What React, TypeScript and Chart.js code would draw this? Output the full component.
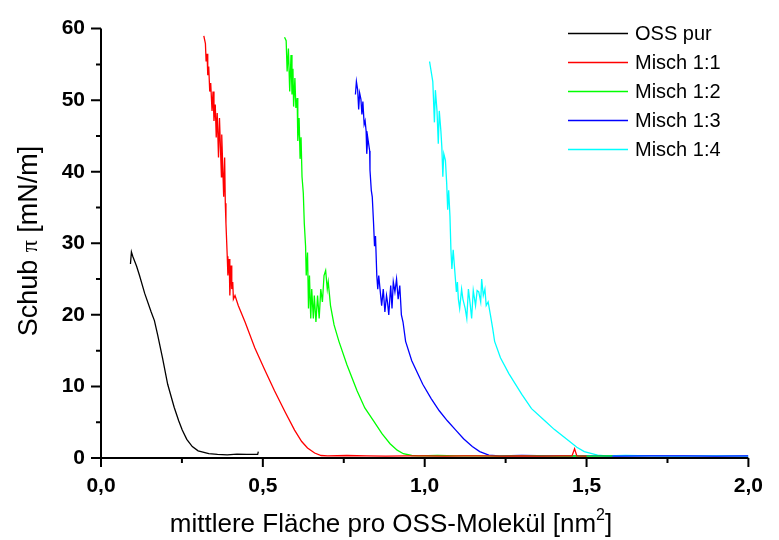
import React, { useEffect, useRef } from 'react';
import { Chart, registerables } from 'chart.js';

Chart.register(...registerables);

// ---- data ----
const seriesLabels = ['OSS pur', 'Misch 1:1', 'Misch 1:2', 'Misch 1:3', 'Misch 1:4'];
const seriesColors = ['#000000', '#ff0000', '#00ff00', '#0000ff', '#00ffff'];

const ossPurX = [0.091, 0.094, 0.098, 0.11, 0.119, 0.135, 0.155, 0.165, 0.175, 0.19, 0.206, 0.226, 0.24, 0.251, 0.265, 0.282, 0.3, 0.333, 0.36, 0.39, 0.42, 0.45, 0.484, 0.486];
const ossPurY = [27.1, 28.8, 28.2, 26.8, 25.5, 23.0, 20.4, 19.2, 17.2, 14.0, 10.3, 7.1, 5.2, 3.9, 2.6, 1.6, 1.0, 0.6, 0.5, 0.45, 0.55, 0.5, 0.5, 0.9];

const misch11X = [0.3176, 0.3226, 0.3247, 0.3277, 0.3298, 0.3328, 0.3359, 0.3389, 0.343, 0.346, 0.349, 0.353, 0.356, 0.359, 0.363, 0.366, 0.372, 0.373, 0.379, 0.382, 0.384, 0.386, 0.39, 0.392, 0.396, 0.398, 0.402, 0.404, 0.407, 0.409, 0.414, 0.424, 0.445, 0.475, 0.505, 0.536, 0.568, 0.598, 0.62, 0.638, 0.66, 0.68, 0.70, 0.76, 0.82, 0.88, 0.94, 1.0, 1.06, 1.12, 1.18, 1.24, 1.30, 1.36, 1.42, 1.455, 1.463, 1.47, 1.50];
const misch11Y = [59.0, 57.9, 55.4, 56.5, 53.5, 54.7, 51.2, 52.4, 48.5, 51.2, 47.1, 49.4, 44.8, 48.2, 42.0, 47.5, 39.3, 45.2, 36.5, 42.0, 35.6, 32.8, 28.2, 25.5, 27.8, 22.7, 26.9, 23.6, 24.6, 22.2, 22.7, 21.3, 19.0, 15.4, 12.4, 9.4, 6.5, 3.9, 2.3, 1.4, 0.7, 0.35, 0.3, 0.35, 0.3, 0.25, 0.3, 0.3, 0.25, 0.3, 0.3, 0.25, 0.3, 0.25, 0.3, 0.3, 1.3, 0.3, 0.25];

const misch12X = [0.567, 0.572, 0.575, 0.579, 0.583, 0.587, 0.59, 0.593, 0.595, 0.599, 0.602, 0.606, 0.608, 0.612, 0.615, 0.618, 0.621, 0.625, 0.628, 0.632, 0.634, 0.638, 0.641, 0.644, 0.648, 0.651, 0.656, 0.659, 0.664, 0.669, 0.674, 0.679, 0.684, 0.689, 0.694, 0.699, 0.702, 0.709, 0.72, 0.735, 0.76, 0.791, 0.815, 0.842, 0.868, 0.893, 0.915, 0.934, 0.96, 0.98, 1.04, 1.1, 1.16, 1.22, 1.28, 1.34, 1.40, 1.46, 1.52, 1.58];
const misch12Y = [58.8, 58.3, 54.0, 57.2, 51.2, 56.3, 50.8, 54.4, 49.1, 53.1, 48.9, 50.3, 44.3, 47.5, 41.8, 44.8, 39.3, 37.0, 32.8, 29.6, 25.5, 28.7, 20.9, 25.5, 19.5, 23.6, 19.5, 22.7, 19.0, 22.7, 19.5, 23.6, 21.8, 25.5, 26.2, 23.6, 24.6, 21.3, 18.6, 16.3, 13.0, 9.4, 7.0, 5.2, 3.4, 2.0, 1.1, 0.6, 0.35, 0.3, 0.35, 0.3, 0.3, 0.25, 0.3, 0.3, 0.25, 0.3, 0.25, 0.3];

const misch13X = [0.786, 0.789, 0.793, 0.796, 0.799, 0.803, 0.806, 0.809, 0.813, 0.816, 0.819, 0.821, 0.824, 0.83, 0.831, 0.835, 0.838, 0.842, 0.845, 0.848, 0.852, 0.855, 0.858, 0.862, 0.867, 0.872, 0.877, 0.882, 0.885, 0.889, 0.895, 0.899, 0.903, 0.908, 0.913, 0.918, 0.923, 0.928, 0.933, 0.941, 0.96, 0.994, 1.02, 1.045, 1.07, 1.096, 1.12, 1.147, 1.17, 1.198, 1.23, 1.3, 1.4, 1.5, 1.6, 1.7, 1.8, 1.9, 2.0];
const misch13Y = [50.8, 52.6, 51.4, 48.7, 51.0, 50.1, 48.0, 49.8, 46.6, 47.1, 45.7, 42.5, 44.8, 42.9, 40.2, 37.4, 36.5, 32.8, 29.6, 31.0, 25.5, 23.6, 25.5, 23.6, 21.3, 23.6, 20.4, 22.7, 21.8, 20.0, 24.1, 20.9, 24.6, 23.2, 25.0, 22.2, 24.1, 20.0, 19.0, 16.3, 13.6, 10.3, 8.3, 6.6, 5.2, 3.9, 2.7, 1.6, 0.9, 0.4, 0.3, 0.35, 0.3, 0.3, 0.25, 0.3, 0.3, 0.25, 0.3];

const misch14X = [1.015, 1.025, 1.03, 1.033, 1.038, 1.042, 1.045, 1.05, 1.053, 1.056, 1.059, 1.064, 1.068, 1.071, 1.074, 1.078, 1.081, 1.084, 1.088, 1.094, 1.098, 1.101, 1.104, 1.108, 1.114, 1.118, 1.125, 1.13, 1.135, 1.141, 1.145, 1.15, 1.157, 1.162, 1.167, 1.173, 1.176, 1.181, 1.186, 1.19, 1.196, 1.203, 1.21, 1.216, 1.234, 1.26, 1.3, 1.33, 1.371, 1.40, 1.442, 1.47, 1.493, 1.534, 1.56, 1.62, 1.7, 1.78, 1.86, 1.94, 2.0];
const misch14Y = [55.4, 52.6, 46.9, 51.4, 48.5, 43.9, 48.5, 45.7, 43.4, 39.3, 42.5, 41.6, 38.3, 34.7, 37.4, 33.8, 29.1, 26.4, 29.1, 25.5, 23.2, 24.6, 22.2, 20.9, 23.6, 22.2, 20.9, 19.5, 23.6, 21.3, 19.5, 23.4, 21.3, 23.4, 23.2, 21.8, 25.0, 22.7, 23.6, 21.3, 21.8, 20.0, 18.1, 16.3, 14.0, 11.8, 8.9, 6.9, 5.2, 4.0, 2.5, 1.5, 0.9, 0.4, 0.3, 0.35, 0.3, 0.25, 0.3, 0.3, 0.25];

const seriesX = [ossPurX, misch11X, misch12X, misch13X, misch14X];
const seriesY = [ossPurY, misch11Y, misch12Y, misch13Y, misch14Y];

const xTicks = [0, 0.5, 1.0, 1.5, 2.0];
const xTickLabels = ['0,0', '0,5', '1,0', '1,5', '2,0'];
const yTicks = [0, 10, 20, 30, 40, 50, 60];
const yTickLabels = ['0', '10', '20', '30', '40', '50', '60'];

const xTitleMain = 'mittlere Fläche pro OSS-Molekül [nm';
const xTitleSup = '2';
const xTitleEnd = ']';
const yTitleParts = ['Schub ', 'π', ' [mN/m]'];

const SANS = "'Liberation Sans', Arial, sans-serif";
const SERIF = "'Liberation Serif', 'DejaVu Serif', serif";

const decorPlugin = {
  id: 'decor',
  afterDraw(chart: any) {
    const { ctx, chartArea: ca } = chart;
    const xs = chart.scales.x;
    const ys = chart.scales.y;
    ctx.save();
    ctx.strokeStyle = '#000';
    ctx.lineWidth = 2;
    ctx.lineCap = 'butt';
    // axis lines
    ctx.beginPath();
    ctx.moveTo(ca.left, ca.top);
    ctx.lineTo(ca.left, ca.bottom + 1);
    ctx.moveTo(ca.left - 1, ca.bottom);
    ctx.lineTo(ca.right, ca.bottom);
    ctx.stroke();
    // x ticks (major + minor)
    ctx.beginPath();
    for (let i = 0; i < xTicks.length; i++) {
      const p = xs.getPixelForValue(xTicks[i]);
      ctx.moveTo(p, ca.bottom);
      ctx.lineTo(p, ca.bottom + 9);
      if (i < xTicks.length - 1) {
        const m = xs.getPixelForValue((xTicks[i] + xTicks[i + 1]) / 2);
        ctx.moveTo(m, ca.bottom);
        ctx.lineTo(m, ca.bottom + 5);
      }
    }
    for (let i = 0; i < yTicks.length; i++) {
      const p = ys.getPixelForValue(yTicks[i]);
      ctx.moveTo(ca.left, p);
      ctx.lineTo(ca.left - 10, p);
      if (i < yTicks.length - 1) {
        const m = ys.getPixelForValue((yTicks[i] + yTicks[i + 1]) / 2);
        ctx.moveTo(ca.left, m);
        ctx.lineTo(ca.left - 5, m);
      }
    }
    ctx.stroke();

    // x title
    ctx.fillStyle = '#000';
    ctx.textBaseline = 'alphabetic';
    ctx.textAlign = 'left';
    const mainFont = `26px ${SANS}`;
    const supFont = `16px ${SANS}`;
    ctx.font = mainFont;
    const mainW = ctx.measureText(xTitleMain).width;
    ctx.font = supFont;
    const supW = ctx.measureText(xTitleSup).width;
    ctx.font = mainFont;
    const endW = ctx.measureText(xTitleEnd).width;
    const totalW = mainW + supW + endW;
    const xCenter = 391;
    let tx = xCenter - totalW / 2;
    const baseY = 532;
    ctx.fillText(xTitleMain, tx, baseY);
    tx += mainW;
    ctx.font = supFont;
    ctx.fillText(xTitleSup, tx, baseY - 12);
    tx += supW;
    ctx.font = mainFont;
    ctx.fillText(xTitleEnd, tx, baseY);

    // y title (rotated)
    ctx.save();
    ctx.translate(37, 241);
    ctx.rotate(-Math.PI / 2);
    const fonts = [`27px ${SANS}`, `24px ${SERIF}`, `27px ${SANS}`];
    const widths = yTitleParts.map((t, i) => { ctx.font = fonts[i]; return ctx.measureText(t).width; });
    let yx = -widths.reduce((a, b) => a + b, 0) / 2;
    yTitleParts.forEach((t, i) => {
      ctx.font = fonts[i];
      ctx.fillText(t, yx, 0);
      yx += widths[i];
    });
    ctx.restore();

    // legend
    const ds = chart.data.datasets;
    ctx.font = `20px ${SANS}`;
    ctx.textBaseline = 'middle';
    ctx.textAlign = 'left';
    for (let i = 0; i < ds.length; i++) {
      const ly = 33.5 + i * 29;
      ctx.strokeStyle = ds[i].borderColor;
      ctx.lineWidth = 1.5;
      ctx.beginPath();
      ctx.moveTo(568, ly);
      ctx.lineTo(628, ly);
      ctx.stroke();
      ctx.fillStyle = '#000';
      ctx.fillText(ds[i].label, 635, ly + 1);
    }
    ctx.restore();
  },
};

export default function App() {
  const ref = useRef<HTMLCanvasElement | null>(null);
  useEffect(() => {
    if (!ref.current) return;
    const datasets = seriesLabels.map((label, i) => ({
      label,
      data: seriesX[i].map((x, j) => ({ x, y: seriesY[i][j] })),
      borderColor: seriesColors[i],
      backgroundColor: seriesColors[i],
      borderWidth: 1.3,
      pointRadius: 0,
      showLine: true,
      tension: 0,
      fill: false,
    }));
    const tickFont = { family: SANS, size: 21, weight: 'bold' as const };
    const chart = new Chart(ref.current, {
      type: 'scatter',
      data: { datasets },
      options: {
        animation: false,
        responsive: false,
        maintainAspectRatio: false,
        layout: { padding: { left: 0, top: 23, right: 23, bottom: 0 } },
        plugins: { legend: { display: false }, tooltip: { enabled: false } },
        scales: {
          x: {
            type: 'linear',
            min: 0,
            max: 2,
            grid: { display: false, drawTicks: false },
            border: { display: false },
            afterFit: (s: any) => { s.height = 82; },
            afterBuildTicks: (s: any) => { s.ticks = xTicks.map((v) => ({ value: v })); },
            ticks: {
              color: '#000',
              font: tickFont,
              padding: 16,
              maxRotation: 0,
              autoSkip: false,
              callback: (v: any) => {
                const i = xTicks.findIndex((t) => Math.abs(t - Number(v)) < 1e-9);
                return i >= 0 ? xTickLabels[i] : '';
              },
            },
          },
          y: {
            type: 'linear',
            min: 0,
            max: 60,
            grid: { display: false, drawTicks: false },
            border: { display: false },
            afterFit: (s: any) => { s.width = 101; },
            afterBuildTicks: (s: any) => { s.ticks = yTicks.map((v) => ({ value: v })); },
            ticks: {
              color: '#000',
              font: tickFont,
              padding: 16,
              autoSkip: false,
              callback: (v: any) => {
                const i = yTicks.findIndex((t) => Math.abs(t - Number(v)) < 1e-9);
                return i >= 0 ? yTickLabels[i] : '';
              },
            },
          },
        },
      },
      plugins: [decorPlugin],
    });
    return () => chart.destroy();
  }, []);
  return (
    <div style={{ position: 'absolute', left: 0, top: 0, width: 779, height: 540, background: '#fff' }}>
      <canvas ref={ref} width={779} height={540} style={{ display: 'block' }} />
    </div>
  );
}
